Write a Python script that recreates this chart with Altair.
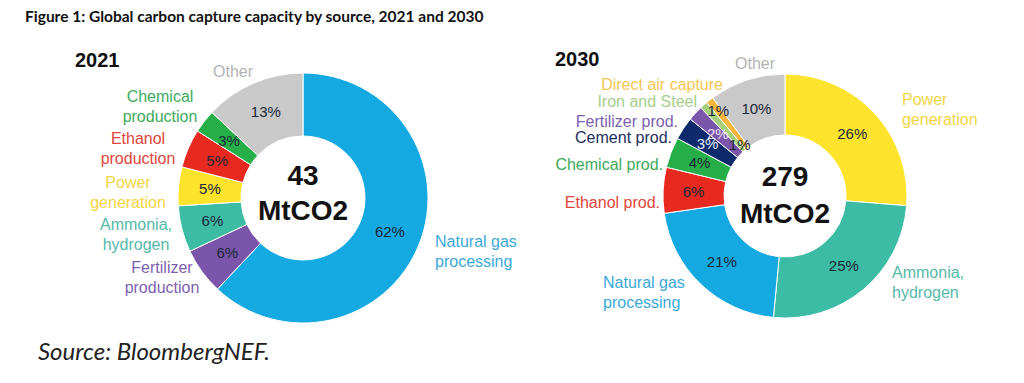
import math
import altair as alt
import pandas as pd

# ---------------- data ----------------
cats_2021 = ["Natural gas processing", "Fertilizer production", "Ammonia, hydrogen",
             "Power generation", "Ethanol production", "Chemical production", "Other"]
share_2021 = [62, 6, 6, 5, 5, 3, 13]
label_lines_2021 = [["Natural gas", "processing"], ["Fertilizer", "production"],
                    ["Ammonia,", "hydrogen"], ["Power", "generation"],
                    ["Ethanol", "production"], ["Chemical", "production"], ["Other"]]

cats_2030 = ["Power generation", "Ammonia, hydrogen", "Natural gas processing",
             "Ethanol prod.", "Chemical prod.", "Cement prod.", "Fertilizer prod.",
             "Iron and Steel", "Direct air capture", "Other"]
share_2030 = [26, 25, 21, 6, 4, 3, 2, 1, 1, 10]
label_lines_2030 = [["Power", "generation"], ["Ammonia,", "hydrogen"],
                    ["Natural gas", "processing"], ["Ethanol prod."], ["Chemical prod."],
                    ["Cement prod."], ["Fertilizer prod."], ["Iron and Steel"],
                    ["Direct air capture"], ["Other"]]

years = ["2021", "2030"]
totals = ["43", "279"]
unit = "MtCO2"
title_text = "Figure 1: Global carbon capture capacity by source, 2021 and 2030"
source_text = "Source: BloombergNEF."

# ---------------- styles ----------------
fill = {
    "Natural gas processing": "#14a9e1", "Fertilizer production": "#7a55a9",
    "Fertilizer prod.": "#7a55a9", "Ammonia, hydrogen": "#3dbca5",
    "Power generation": "#fde32b", "Ethanol production": "#e8291f",
    "Ethanol prod.": "#e8291f", "Chemical production": "#26ae49",
    "Chemical prod.": "#26ae49", "Cement prod.": "#0e2a6b",
    "Iron and Steel": "#a5d07b", "Direct air capture": "#f4b63a", "Other": "#c9c9c9",
}
text_col = {
    "Natural gas processing": "#3aa9d8", "Fertilizer production": "#7d5fb0",
    "Fertilizer prod.": "#7d5fb0", "Ammonia, hydrogen": "#55b8a9",
    "Power generation": "#f0d544", "Ethanol production": "#e0463b",
    "Ethanol prod.": "#e0463b", "Chemical production": "#3dab5b",
    "Chemical prod.": "#3dab5b", "Cement prod.": "#1d2f5e",
    "Iron and Steel": "#a6cf8a", "Direct air capture": "#f4c653", "Other": "#b3b3b3",
}
pct_col_default = "#1b2838"
pct_col_special = {"Cement prod.": "#e3eaff", "Fertilizer prod.": "#ece2fa"}

OFF = 8  # page margin
FONT = "Liberation Sans"

# donut geometry (page pixels)
donut = {
    "2021": dict(cx=303, cy=198, r0=62, r1=125, ty=177, lh=35),
    "2030": dict(cx=785, cy=196, r0=61, r1=122, ty=178, lh=37),
}
pct_r_special = {"2030": {"Iron and Steel": 68, "Direct air capture": 108,
                          "Cement prod.": 93}}

# outer label anchors (align, x, first-line y) in page pixels
label_pos = {
    "2021": {
        "Natural gas processing": ("left", 435, 242),
        "Fertilizer production": ("center", 162, 268),
        "Ammonia, hydrogen": ("center", 136, 225),
        "Power generation": ("center", 128, 183),
        "Ethanol production": ("center", 138, 139),
        "Chemical production": ("center", 160, 97),
        "Other": ("center", 233, 72),
    },
    "2030": {
        "Power generation": ("left", 902, 100),
        "Ammonia, hydrogen": ("left", 892, 273),
        "Natural gas processing": ("left", 603, 283),
        "Ethanol prod.": ("right", 660, 203),
        "Chemical prod.": ("right", 663, 165),
        "Cement prod.": ("right", 672, 138),
        "Fertilizer prod.": ("right", 678, 122),
        "Iron and Steel": ("right", 697, 102),
        "Direct air capture": ("right", 723, 85),
        "Other": ("center", 755, 64),
    },
}

series = {
    "2021": (cats_2021, share_2021, label_lines_2021),
    "2030": (cats_2030, share_2030, label_lines_2030),
}

layers = []
for yr in years:
    cats, shares, lines = series[yr]
    g = donut[yr]
    mid = (g["r0"] + g["r1"]) / 2
    df = pd.DataFrame({
        "idx": list(range(len(cats))),
        "cat": cats,
        "share": shares,
        "pct": [f"{s}%" for s in shares],
        "fill": [fill[c] for c in cats],
        "pcol": [pct_col_special.get(c, pct_col_default) for c in cats],
        "pr": [pct_r_special.get(yr, {}).get(c, mid) for c in cats],
    })
    cx, cy = g["cx"] - OFF, g["cy"] - OFF
    base = alt.Chart(df)
    arc = base.mark_arc(innerRadius=g["r0"], outerRadius=g["r1"],
                        stroke="white", strokeWidth=1).encode(
        theta=alt.Theta("share:Q", stack="normalize"),
        order=alt.Order("idx:Q"),
        color=alt.Color("fill:N", scale=None),
        x=alt.value(cx), y=alt.value(cy),
    )
    pct = (
        base.transform_window(cum="sum(share)", sort=[alt.SortField("idx")], frame=[None, 0])
        .transform_joinaggregate(total="sum(share)")
        .transform_calculate(mid="(datum.cum - datum.share / 2) / datum.total")
        .mark_text(font=FONT, fontSize=15)
        .encode(
            theta=alt.Theta("mid:Q", stack=None,
                            scale=alt.Scale(domain=[0, 1], range=[0, 2 * math.pi])),
            radius=alt.Radius("pr:Q", scale=None),
            text="pct:N",
            color=alt.Color("pcol:N", scale=None),
            x=alt.value(cx), y=alt.value(cy),
        )
    )
    layers += [arc, pct]

    # outer category labels
    rows = []
    for c, ln in zip(cats, lines):
        a, lx, ly = label_pos[yr][c]
        rows.append({"lines": ln, "col": text_col[c], "align": a,
                     "lx": lx - OFF, "ly": ly - OFF})
    ldf = pd.DataFrame(rows)
    for a in ["left", "center", "right"]:
        layers.append(
            alt.Chart(ldf).transform_filter(alt.datum.align == a)
            .mark_text(font=FONT, fontSize=16, align=a, baseline="middle", lineHeight=20)
            .encode(
                x=alt.X("lx:Q", scale=None, axis=None),
                y=alt.Y("ly:Q", scale=None, axis=None),
                text="lines",
                color=alt.Color("col:N", scale=None),
            )
        )

    # centre total
    layers.append(
        alt.Chart(pd.DataFrame({"lines": [[totals[years.index(yr)], unit]]}))
        .mark_text(font=FONT, fontSize=28, fontWeight="bold", color="#111111",
                   baseline="middle", lineHeight=g["lh"])
        .encode(x=alt.value(cx), y=alt.value(g["ty"] - OFF), text="lines")
    )

# year headings
year_df = pd.DataFrame({"t": years, "lx": [75 - OFF, 555 - OFF], "ly": [61 - OFF, 60 - OFF]})
layers.append(
    alt.Chart(year_df).mark_text(font=FONT, fontSize=20, fontWeight="bold",
                                 color="#111111", align="left", baseline="middle")
    .encode(x=alt.X("lx:Q", scale=None, axis=None),
            y=alt.Y("ly:Q", scale=None, axis=None), text="t")
)

# title and source
layers.append(
    alt.Chart(pd.DataFrame({"t": [title_text]})).mark_text(
        font="Lato", fontSize=15.5, fontWeight="bold", color="#111111",
        align="left", baseline="alphabetic")
    .encode(x=alt.value(25 - OFF), y=alt.value(22 - OFF), text="t")
)
layers.append(
    alt.Chart(pd.DataFrame({"t": [source_text]})).mark_text(
        font="Lato", fontSize=24, fontStyle="italic", color="#222222",
        align="left", baseline="middle")
    .encode(x=alt.value(38 - OFF), y=alt.value(353 - OFF), text="t")
)

chart = alt.layer(*layers).resolve_scale(theta="independent", radius="independent").properties(
    width=1008, height=367, padding=0,
    autosize=alt.AutoSizeParams(type="none"),
    background="white",
).configure_view(stroke=None)

chart.save("out.html", embed_options={"renderer": "svg", "actions": False})
